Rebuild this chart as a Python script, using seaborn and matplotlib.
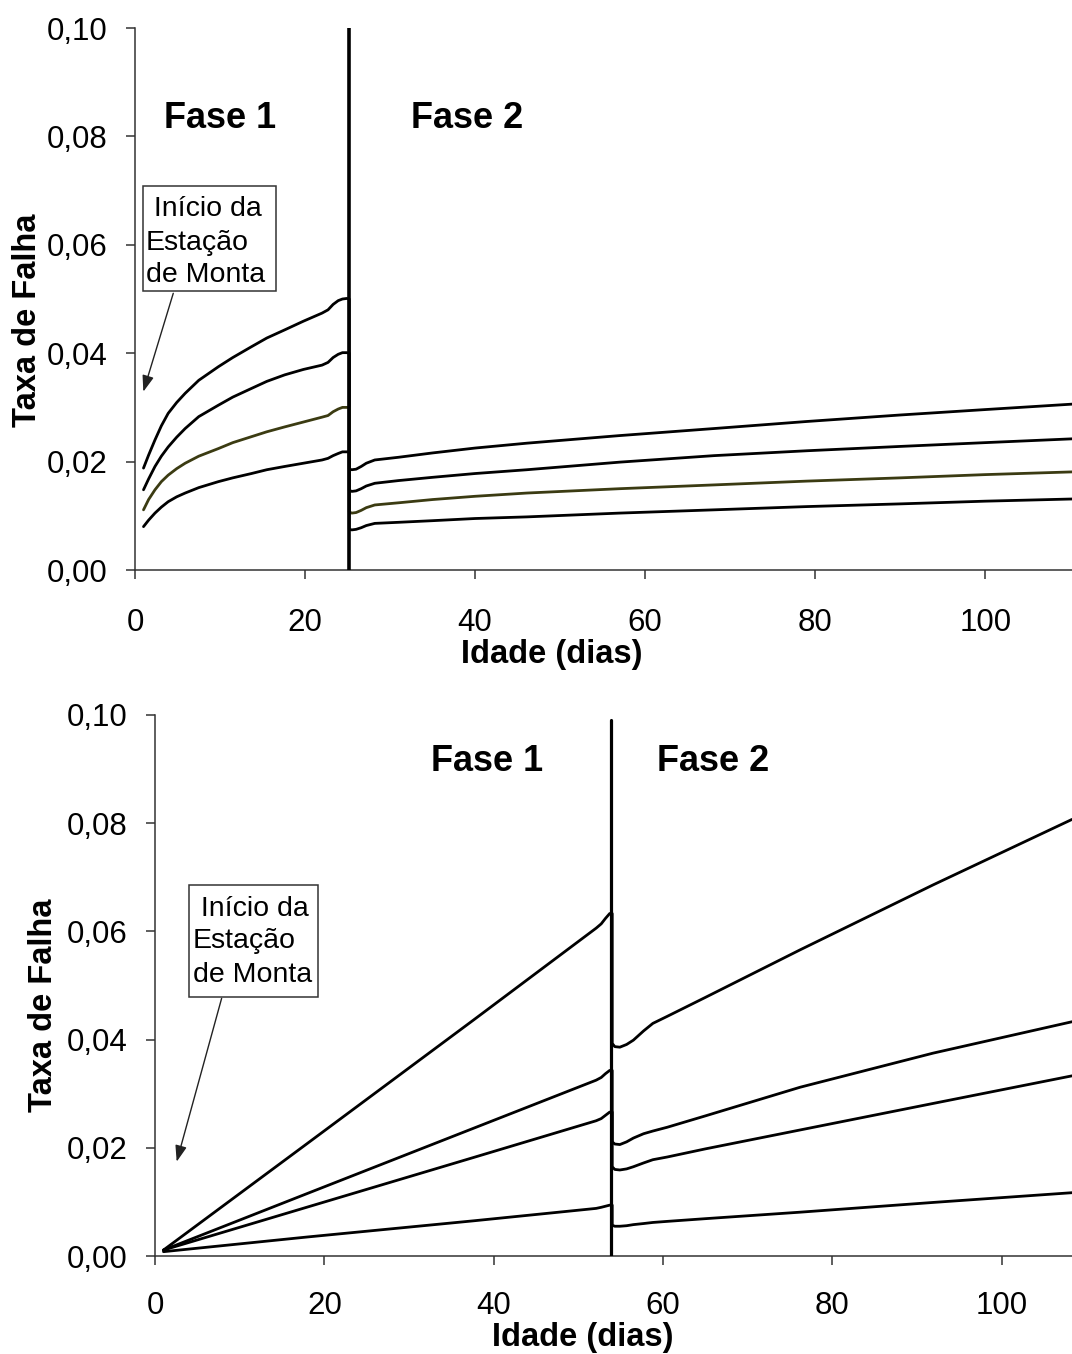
import matplotlib
matplotlib.use("Agg")
import matplotlib.pyplot as plt
import numpy as np
import pandas as pd
import seaborn as sns
from matplotlib.ticker import FuncFormatter
from matplotlib.patches import Rectangle

sns.set_style("ticks")
plt.rcParams['font.family'] = ['Liberation Sans', 'DejaVu Sans']
plt.rcParams['text.color'] = 'black'
plt.rcParams['axes.labelcolor'] = 'black'

# ---------------- data: top panel ----------------
top_days_f1 = [1.0, 1.6, 2.35, 3.1, 3.9, 4.9, 5.9, 7.5, 9.8, 11.5, 13.7, 15.5, 17.6, 19.8, 22.0, 22.7, 23.3, 23.9, 24.4, 24.9, 25.2]
top_c1_f1 = [0.0188, 0.0212, 0.0240, 0.0266, 0.0289, 0.0309, 0.0326, 0.0350, 0.0375, 0.0392, 0.0412, 0.0428, 0.0443, 0.0459, 0.0474, 0.0480, 0.0490, 0.0497, 0.0500, 0.0501, 0.0500]
top_c2_f1 = [0.0148, 0.0168, 0.0191, 0.0210, 0.0227, 0.0245, 0.0261, 0.0283, 0.0304, 0.0319, 0.0335, 0.0348, 0.0360, 0.0370, 0.0378, 0.0383, 0.0392, 0.0398, 0.0401, 0.0401, 0.0400]
top_c3_f1 = [0.0111, 0.0130, 0.0148, 0.0163, 0.0175, 0.0187, 0.0197, 0.0210, 0.0224, 0.0235, 0.0246, 0.0255, 0.0264, 0.0273, 0.0282, 0.0285, 0.0292, 0.0297, 0.0300, 0.0300, 0.0300]
top_c4_f1 = [0.0080, 0.0092, 0.0105, 0.0116, 0.0126, 0.0135, 0.0142, 0.0152, 0.0163, 0.0170, 0.0178, 0.0185, 0.0191, 0.0197, 0.0203, 0.0206, 0.0211, 0.0215, 0.0218, 0.0218, 0.0218]

top_days_f2 = [25.2, 25.5, 26.0, 26.6, 27.2, 28.2, 31.0, 35.0, 40.0, 46.1, 57.0, 68.1, 79.0, 90.0, 100.0, 110.2]
top_c1_f2 = [0.0186, 0.0185, 0.0186, 0.0191, 0.0197, 0.0203, 0.0208, 0.0216, 0.0225, 0.0234, 0.0248, 0.0261, 0.0274, 0.0286, 0.0296, 0.0306]
top_c2_f2 = [0.0147, 0.0145, 0.0146, 0.0150, 0.0155, 0.0160, 0.0165, 0.0171, 0.0178, 0.0185, 0.0199, 0.0211, 0.0220, 0.0228, 0.0235, 0.0242]
top_c3_f2 = [0.0107, 0.0105, 0.0106, 0.0110, 0.0115, 0.0120, 0.0124, 0.0130, 0.0136, 0.0142, 0.0150, 0.0157, 0.0164, 0.0170, 0.0176, 0.0181]
top_c4_f2 = [0.0075, 0.0074, 0.0075, 0.0078, 0.0082, 0.0086, 0.0088, 0.0091, 0.0095, 0.0098, 0.0105, 0.0111, 0.0117, 0.0122, 0.0127, 0.0131]
top_split = 25.2

# ---------------- data: bottom panel ----------------
bot_days_f1 = [1.0, 17.9, 37.6, 52.1, 52.7, 53.2, 53.7, 54.0]
bot_c1_f1 = [0.0011, 0.0207, 0.0436, 0.0606, 0.0614, 0.0624, 0.0633, 0.0633]
bot_c2_f1 = [0.0011, 0.0115, 0.0236, 0.0325, 0.0330, 0.0337, 0.0343, 0.0343]
bot_c3_f1 = [0.0011, 0.0090, 0.0182, 0.0250, 0.0254, 0.0260, 0.0266, 0.0266]
bot_c4_f1 = [0.0008, 0.0035, 0.0065, 0.0088, 0.0090, 0.0092, 0.0094, 0.0094]

bot_days_f2 = [54.0, 54.3, 54.9, 55.7, 56.5, 57.7, 58.8, 60.5, 65.0, 76.2, 91.9, 108.3]
bot_c1_f2 = [0.0393, 0.0387, 0.0386, 0.0391, 0.0399, 0.0416, 0.0430, 0.0443, 0.0478, 0.0566, 0.0686, 0.0807]
bot_c2_f2 = [0.0211, 0.0207, 0.0206, 0.0211, 0.0218, 0.0226, 0.0231, 0.0238, 0.0259, 0.0312, 0.0375, 0.0433]
bot_c3_f2 = [0.0165, 0.0160, 0.0159, 0.0161, 0.0165, 0.0172, 0.0178, 0.0183, 0.0198, 0.0233, 0.0282, 0.0333]
bot_c4_f2 = [0.0057, 0.0055, 0.0055, 0.0056, 0.0058, 0.0060, 0.0062, 0.0064, 0.0069, 0.0081, 0.0099, 0.0117]
bot_split = 53.85

x_ticks = [0, 20, 40, 60, 80, 100]
y_ticks = [0.00, 0.02, 0.04, 0.06, 0.08, 0.10]
label_x = "Idade (dias)"
label_y = "Taxa de Falha"
fase_labels = ["Fase 1", "Fase 2"]
box_lines = [" Início da", "Estação", "de Monta"]


def build(days1, days2, curves1, curves2):
    rows = []
    for k, (a, b) in enumerate(zip(curves1, curves2)):
        for i, (d, v) in enumerate(zip(list(days1) + list(days2), list(a) + list(b))):
            rows.append(dict(curva=k, ordem=i, dia=d, taxa=v))
    return pd.DataFrame(rows)


df_top = build(top_days_f1, top_days_f2,
               [top_c1_f1, top_c2_f1, top_c3_f1, top_c4_f1],
               [top_c1_f2, top_c2_f2, top_c3_f2, top_c4_f2])
df_bot = build(bot_days_f1, bot_days_f2,
               [bot_c1_f1, bot_c2_f1, bot_c3_f1, bot_c4_f1],
               [bot_c1_f2, bot_c2_f2, bot_c3_f2, bot_c4_f2])

W, H = 1072, 1354
fig = plt.figure(figsize=(W / 100, H / 100), dpi=100)
ax1 = fig.add_axes([135 / W, 1 - 570 / H, 937 / W, 542 / H])
ax2 = fig.add_axes([155 / W, 1 - 1256 / H, 917 / W, 541 / H])

spine_c = '#333333'
fmt = FuncFormatter(lambda v, p: f"{v:.2f}".replace('.', ','))


def style(ax, xmax, xpad, xlab_coords, ylab_coords):
    ax.set_xlim(0, xmax)
    ax.set_ylim(0, 0.10)
    ax.set_xticks(x_ticks)
    ax.set_yticks(y_ticks)
    ax.yaxis.set_major_formatter(fmt)
    for s in ['top', 'right']:
        ax.spines[s].set_visible(False)
    for s in ['left', 'bottom']:
        ax.spines[s].set_color(spine_c)
        ax.spines[s].set_linewidth(1.1)
    ax.tick_params(axis='both', direction='out', length=6.5, width=1.1,
                   color=spine_c, labelsize=22.5, labelcolor='black')
    ax.tick_params(axis='y', pad=13.5)
    ax.tick_params(axis='x', pad=xpad)
    ax.set_xlabel(label_x, fontsize=23.5, fontweight='bold', color='black')
    ax.set_ylabel(label_y, fontsize=23.5, fontweight='bold', color='black')
    ax.xaxis.set_label_coords(*xlab_coords)
    ax.yaxis.set_label_coords(*ylab_coords)
    ax.grid(False)


# ---------- top panel ----------
sns.lineplot(data=df_top, x='dia', y='taxa', hue='curva', units='curva',
             estimator=None, sort=False, legend=False,
             palette=['black', 'black', '#3b3b12', 'black'],
             linewidth=2.0, ax=ax1)
ax1.axvline(top_split, ymin=0, ymax=1, color='black', lw=2.6, zorder=5)
style(ax1, 110.2, 21, (0.4448, -0.1282), (-0.0982, 0.460))

for lab, xd in zip(fase_labels, [10.0, 39.1]):
    ax1.text(xd, 0.0815, lab, fontsize=26, fontweight='bold', color='black',
             ha='center', va='baseline')

ax1.add_patch(Rectangle((0.98, 0.05153), 16.59 - 0.98, 0.07085 - 0.05153,
                        facecolor='white', edgecolor=spine_c, lw=1.1,
                        zorder=6, clip_on=False))
for line, yb in zip(box_lines, [0.06531, 0.05904, 0.05319]):
    ax1.text(1.24, yb, line, fontsize=20.5, color='black',
             ha='left', va='baseline', zorder=7)
ax1.annotate('', xy=(0.98, 0.0329), xytext=(4.5, 0.05105),
             arrowprops=dict(arrowstyle='-|>,head_length=0.7,head_width=0.25',
                             color='#222222', lw=1.0, shrinkA=0, shrinkB=0,
                             mutation_scale=14), zorder=6)

# ---------- bottom panel ----------
sns.lineplot(data=df_bot, x='dia', y='taxa', hue='curva', units='curva',
             estimator=None, sort=False, legend=False,
             palette=['black', 'black', 'black', 'black'],
             linewidth=2.0, ax=ax2)
ax2.axvline(bot_split, ymin=0, ymax=0.991, color='black', lw=2.3, zorder=5)
style(ax2, 108.3, 19, (0.4668, -0.1229), (-0.1051, 0.464))

for lab, xd in zip(fase_labels, [39.26, 65.9]):
    ax2.text(xd, 0.0897, lab, fontsize=26, fontweight='bold', color='black',
             ha='center', va='baseline')

ax2.add_patch(Rectangle((4.01, 0.04793), 19.28 - 4.01, 0.06858 - 0.04793,
                        facecolor='white', edgecolor=spine_c, lw=1.1,
                        zorder=6, clip_on=False))
for line, yb in zip(box_lines, [0.06285, 0.05688, 0.0507]):
    ax2.text(4.49, yb, line, fontsize=20.5, color='black',
             ha='left', va='baseline', zorder=7)
ax2.annotate('', xy=(2.56, 0.01743), xytext=(7.87, 0.04763),
             arrowprops=dict(arrowstyle='-|>,head_length=0.7,head_width=0.25',
                             color='#222222', lw=1.0, shrinkA=0, shrinkB=0,
                             mutation_scale=14), zorder=6)

fig.savefig('out.png', dpi=100)
